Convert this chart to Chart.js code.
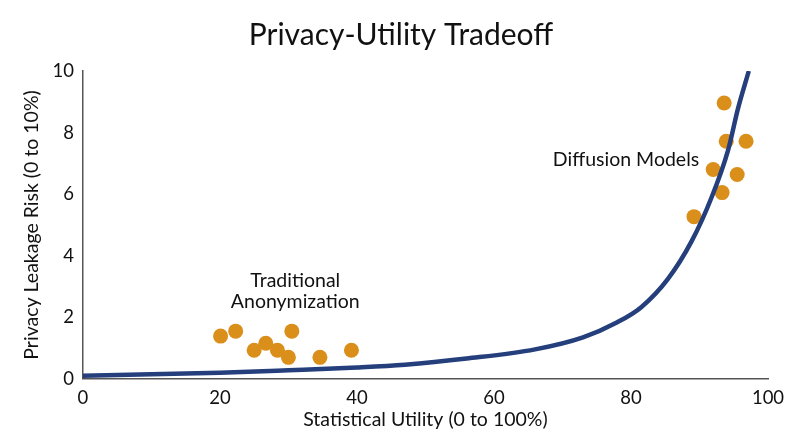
<!DOCTYPE html>
<html>
<head>
<meta charset="utf-8">
<title>Privacy-Utility Tradeoff</title>
<script src="https://cdn.jsdelivr.net/npm/chart.js@4.4.1/dist/chart.umd.min.js"></script>
<style>
  html, body { margin: 0; padding: 0; background: #fff; }
  #wrap { width: 800px; height: 447px; }
</style>
</head>
<body>
<div id="wrap"><canvas id="tradeoffChart" width="800" height="447"></canvas></div>
<script>
/* ========================================
   DADOS
   ======================================== */

// Curva de tradeoff
const curveUtility = [0, 10, 20, 30, 40, 47, 56, 66, 73, 78, 81.5, 85.4, 88.8, 91.7, 94.2, 95.6, 97.2];
const curveRisk    = [0.1, 0.15, 0.2, 0.28, 0.37, 0.46, 0.66, 0.96, 1.35, 1.84, 2.33, 3.25, 4.45, 5.86, 7.45, 8.76, 10.0];

// Anonimização tradicional
const tradUtility = [20.1, 22.3, 25.0, 26.7, 28.4, 30.0, 30.5, 34.6, 39.2];
const tradRisk    = [1.39, 1.55, 0.93, 1.16, 0.93, 0.70, 1.55, 0.70, 0.93];

// Modelos de difusão
const diffUtility = [93.6, 93.9, 96.8, 92.0, 95.5, 93.3, 89.2];
const diffRisk    = [8.96, 7.72, 7.72, 6.80, 6.64, 6.05, 5.27];

// Eixos
const xTicks = [0, 20, 40, 60, 80, 100];
const yTicks = [0, 2, 4, 6, 8, 10];

const FONT = 'Lato, "Noto Sans", sans-serif';

const toPoints = (xs, ys) => xs.map((x, i) => ({ x: x, y: ys[i] }));

/* ========================================
   PLUGIN - TÍTULO E RÓTULOS DOS GRUPOS
   ======================================== */

const groupLabels = {
  id: 'groupLabels',
  afterDatasetsDraw(chart) {
    const { ctx, scales: { x, y } } = chart;
    ctx.save();
    ctx.fillStyle = '#111';
    ctx.textBaseline = 'middle';

    // Título centralizado no quadro inteiro
    ctx.textAlign = 'center';
    ctx.font = '30px ' + FONT;
    ctx.fillText('Privacy-Utility Tradeoff', 401, 35);

    ctx.font = '19.5px ' + FONT;
    ctx.fillText('Traditional', x.getPixelForValue(31), y.getPixelForValue(3.18));
    ctx.fillText('Anonymization', x.getPixelForValue(31), y.getPixelForValue(2.5));

    ctx.textAlign = 'left';
    ctx.fillText('Diffusion Models', x.getPixelForValue(68.6), y.getPixelForValue(7.13));
    ctx.restore();
  }
};

/* ========================================
   GRÁFICO
   ======================================== */

function buildChart() {
  const canvas = document.getElementById('tradeoffChart');
  if (!canvas) return;

  new Chart(canvas, {
    type: 'scatter',
    data: {
      datasets: [
        {
          label: 'Tradeoff',
          type: 'line',
          data: toPoints(curveUtility, curveRisk),
          borderColor: '#253F7C',
          borderWidth: 4.5,
          pointRadius: 0,
          fill: false,
          cubicInterpolationMode: 'monotone'
        },
        {
          label: 'Traditional Anonymization',
          data: toPoints(tradUtility, tradRisk),
          backgroundColor: '#DA8F1B',
          borderWidth: 0,
          pointRadius: 7.5
        },
        {
          label: 'Diffusion Models',
          data: toPoints(diffUtility, diffRisk),
          backgroundColor: '#DA8F1B',
          borderWidth: 0,
          pointRadius: 7.5
        }
      ]
    },
    options: {
      responsive: false,
      animation: false,
      layout: {
        padding: { top: 71, right: 32, bottom: 15.5, left: 20 }
      },
      plugins: {
        legend: { display: false },
        tooltip: { enabled: false },
        title: { display: false }
      },
      scales: {
        x: {
          type: 'linear',
          min: 0,
          max: 100,
          afterBuildTicks: axis => { axis.ticks = xTicks.map(v => ({ value: v })); },
          grid: { display: false, drawTicks: false },
          border: { display: true, color: '#555', width: 1.5 },
          ticks: {
            color: '#111',
            padding: 8,
            font: { family: FONT, size: 18.5 }
          },
          title: {
            display: true,
            text: 'Statistical Utility (0 to 100%)',
            color: '#111',
            padding: { top: -9, bottom: 0 },
            font: { family: FONT, size: 19.5 }
          }
        },
        y: {
          type: 'linear',
          min: 0,
          max: 10,
          afterBuildTicks: axis => { axis.ticks = yTicks.map(v => ({ value: v })); },
          grid: { display: false, drawTicks: false },
          border: { display: true, color: '#555', width: 1.5 },
          ticks: {
            color: '#111',
            padding: 9,
            font: { family: FONT, size: 18.5 }
          },
          title: {
            display: true,
            text: 'Privacy Leakage Risk (0 to 10%)',
            color: '#111',
            padding: { top: 0, bottom: 0 },
            font: { family: FONT, size: 19.5 }
          }
        }
      }
    },
    plugins: [groupLabels]
  });
}

document.addEventListener('DOMContentLoaded', buildChart);
</script>
</body>
</html>
